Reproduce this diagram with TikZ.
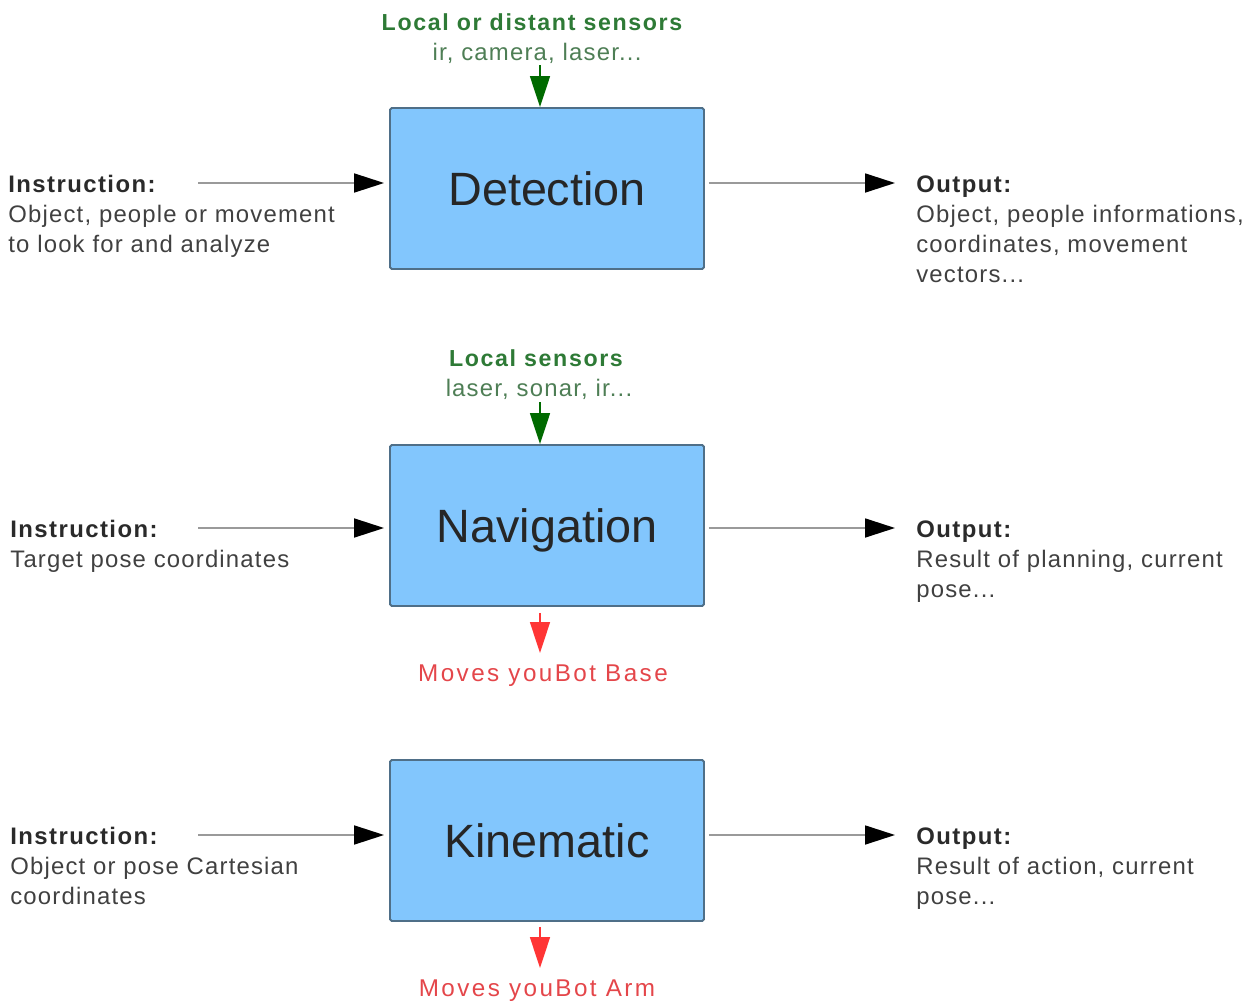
\documentclass[tikz,border=0pt]{standalone}
\usepackage{fontspec}
\setmainfont{Liberation Sans}
\usetikzlibrary{arrows.meta,calc}
\definecolor{boxfill}{HTML}{82C6FD}
\definecolor{boxline}{HTML}{4F6F88}
\definecolor{txtdark}{HTML}{2A2A2A}
\definecolor{txtbody}{HTML}{404040}
\definecolor{greentitle}{HTML}{2E7A36}
\definecolor{greensub}{HTML}{4E7E55}
\definecolor{greenarrow}{HTML}{006A00}
\definecolor{redarrow}{HTML}{FF3535}
\definecolor{redtext}{HTML}{E4464A}
\definecolor{grayline}{HTML}{9A9A9A}
\tikzset{
  modbox/.style={draw=boxline, fill=boxfill, line width=1.1pt, rounded corners=1pt,
    minimum width=6.28cm, minimum height=3.22cm, inner sep=0pt,
    text height=19pt, text depth=0pt,
    font=\fontsize{26.6}{30}\selectfont, text=black!85},
  lblhead/.style={inner sep=0pt, anchor=base west, text=txtdark,
    font=\fontsize{13.6}{17}\selectfont\bfseries\addfontfeature{LetterSpace=6}},
  lblbody/.style={inner sep=0pt, anchor=base west, text=txtbody,
    font=\fontsize{13.6}{17}\selectfont\addfontfeature{LetterSpace=5}},
  greenhead/.style={inner sep=0pt, anchor=base, text=greentitle,
    font=\fontsize{13.2}{17}\selectfont\bfseries\addfontfeature{LetterSpace=7}},
  greenbody/.style={inner sep=0pt, anchor=base, text=greensub,
    font=\fontsize{13.6}{17}\selectfont\addfontfeature{LetterSpace=5}},
  redlbl/.style={inner sep=0pt, anchor=base, text=redtext,
    font=\fontsize{13.8}{17}\selectfont\addfontfeature{LetterSpace=10}},
  grayarrow/.style={draw=grayline, line width=1pt,
    -{Triangle[length=0.6cm,width=0.38cm,fill=black,color=black]}},
  grnarrow/.style={draw=greenarrow, line width=0.9pt,
    -{Triangle[length=0.62cm,width=0.4cm,fill=greenarrow,color=greenarrow]}},
  rdarrow/.style={draw=redarrow, line width=0.9pt,
    -{Triangle[length=0.62cm,width=0.4cm,fill=redarrow,color=redarrow]}},
}
\begin{document}
\begin{tikzpicture}[x=0.02cm,y=-0.02cm]
\useasboundingbox (0,0) rectangle (1249,1001);

% ---------- Detection ----------
\node[modbox] (det) at (547,188.5) {Detection};
\node[greenhead] (dsens) at (532,30) {Local or distant sensors};
\node[greenbody] (dsub) at (537,60) {ir, camera, laser...};
\coordinate (dtop) at (540,65);
\draw[grnarrow] (dtop) -- (dtop |- det.north);

\node[lblhead] (di1) at (8,192) {Instruction:};
\node[lblbody] (di2) at (8,222) {Object, people or movement};
\node[lblbody] (di3) at (8,252) {to look for and analyze};
\coordinate (din) at (198,183);
\draw[grayarrow, shorten >=5*0.02cm] (din) -- (din -| det.west);

\node[lblhead] (do1) at (916,192) {Output:};
\node[lblbody] (do2) at (916,222) {Object, people informations,};
\node[lblbody] (do3) at (916,252) {coordinates, movement};
\node[lblbody] (do4) at (916,282) {vectors...};
\coordinate (dout) at (895,183);
\draw[grayarrow, shorten <=4*0.02cm] (dout -| det.east) -- (dout);

% ---------- Navigation ----------
\node[modbox] (nav) at (547,525.5) {Navigation};
\node[greenhead] (nsens) at (536,366) {Local sensors};
\node[greenbody] (nsub) at (539,396) {laser, sonar, ir...};
\coordinate (ntop) at (540,402);
\draw[grnarrow] (ntop) -- (ntop |- nav.north);

\node[lblhead] (ni1) at (10,537) {Instruction:};
\node[lblbody] (ni2) at (10,567) {Target pose coordinates};
\coordinate (nin) at (198,528);
\draw[grayarrow, shorten >=5*0.02cm] (nin) -- (nin -| nav.west);

\node[lblhead] (no1) at (916,537) {Output:};
\node[lblbody] (no2) at (916,567) {Result of planning, current};
\node[lblbody] (no3) at (916,597) {pose...};
\coordinate (nout) at (895,528);
\draw[grayarrow, shorten <=4*0.02cm] (nout -| nav.east) -- (nout);

\coordinate (nbot) at (540,653);
\draw[rdarrow, shorten <=6*0.02cm] (nbot |- nav.south) -- (nbot);
\node[redlbl] (nred) at (543,681) {Moves youBot Base};

% ---------- Kinematic ----------
\node[modbox] (kin) at (547,840.5) {Kinematic};

\node[lblhead] (ki1) at (10,844) {Instruction:};
\node[lblbody] (ki2) at (10,874) {Object or pose Cartesian};
\node[lblbody] (ki3) at (10,904) {coordinates};
\coordinate (kin1) at (198,835);
\draw[grayarrow, shorten >=5*0.02cm] (kin1) -- (kin1 -| kin.west);

\node[lblhead] (ko1) at (916,844) {Output:};
\node[lblbody] (ko2) at (916,874) {Result of action, current};
\node[lblbody] (ko3) at (916,904) {pose...};
\coordinate (kout) at (895,835);
\draw[grayarrow, shorten <=4*0.02cm] (kout -| kin.east) -- (kout);

\coordinate (kbot) at (540,968);
\draw[rdarrow, shorten <=5*0.02cm] (kbot |- kin.south) -- (kbot);
\node[redlbl] (kred) at (537,996) {Moves youBot Arm};
\end{tikzpicture}
\end{document}
